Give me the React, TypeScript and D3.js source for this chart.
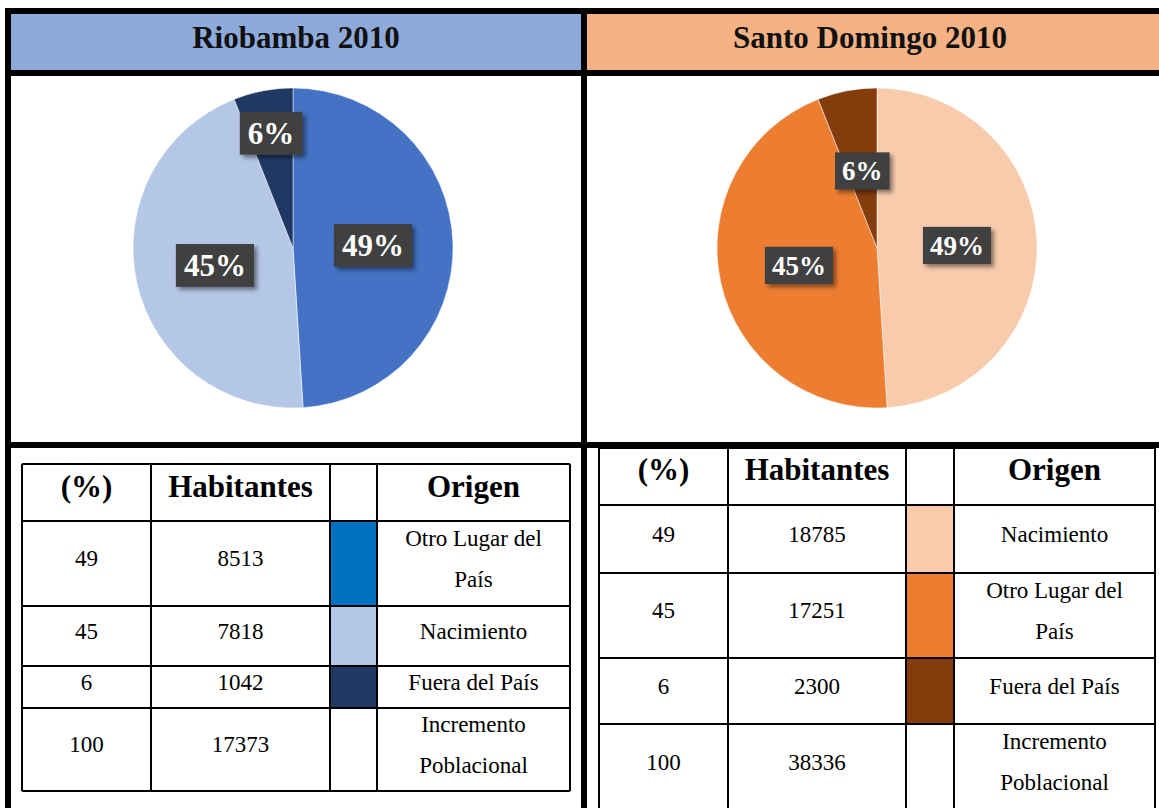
import * as d3 from "d3";

// Riobamba 2010
const riobambaOrigen = [["Otro Lugar del", "País"], ["Nacimiento"], ["Fuera del País"]];
const riobambaHabitantes = [8513, 7818, 1042];
const riobambaPieColors = ["#4472C4", "#B4C7E7", "#203864"];
const riobambaSwatches = ["#0070C0", "#B4C7E7", "#203864"];

// Santo Domingo 2010
const santoOrigen = [["Nacimiento"], ["Otro Lugar del", "País"], ["Fuera del País"]];
const santoHabitantes = [18785, 17251, 2300];
const santoPieColors = ["#F8CBAD", "#ED7D31", "#843C0C"];
const santoSwatches = ["#F8CBAD", "#ED7D31", "#843C0C"];

const tableHeaders = ["(%)", "Habitantes", "", "Origen"];
const totalLabel = ["Incremento", "Poblacional"];

const W = 1159;
const H = 808;
const SERIF = "'Liberation Serif', 'Times New Roman', Times, serif";

const panels = [
  {
    title: "Riobamba 2010",
    headerFill: "#8EAADB",
    x0: 11,
    x1: 581,
    origen: riobambaOrigen,
    values: riobambaHabitantes,
    pieColors: riobambaPieColors,
    swatches: riobambaSwatches,
    cx: 293,
    cy: 248,
    r: 160,
    labelFont: 31,
    labelR: [0.5, 0.5, 0.73],
    cols: [22, 151, 330, 377, 570],
    rows: [464, 521, 606, 666, 708, 791],
    headBase: 497,
  },
  {
    title: "Santo Domingo 2010",
    headerFill: "#F4B183",
    x0: 587,
    x1: 1159,
    origen: santoOrigen,
    values: santoHabitantes,
    pieColors: santoPieColors,
    swatches: santoSwatches,
    cx: 877,
    cy: 248,
    r: 160,
    labelFont: 27,
    labelR: [0.5, 0.5, 0.49],
    cols: [599, 728, 906, 954, 1155],
    rows: [448, 505, 573, 658, 724, 810],
    headBase: 480,
  },
];

const pct = d3.format(".0%");

function CellText({ x, y0, y1, lines, size = 23 }: any) {
  const mid = (y0 + y1) / 2 - 5;
  const gap = 41;
  return (
    <>
      {lines.map((t: string, i: number) => (
        <text
          key={i}
          x={x}
          y={mid + (i - (lines.length - 1) / 2) * gap + size * 0.33}
          textAnchor="middle"
          style={{ fontFamily: SERIF }}
          fontSize={size}
          fill="#000"
        >
          {t}
        </text>
      ))}
    </>
  );
}

function Panel({ p }: any) {
  const total = d3.sum(p.values as number[]);
  const arcs = d3.pie<number>().sort(null).value((d) => d)(p.values);
  const arc = d3.arc<d3.PieArcDatum<number>>().innerRadius(0).outerRadius(p.r);
  const colMid = (i: number) => (p.cols[i] + p.cols[i + 1]) / 2;

  const bodyRows = p.values.map((v: number, i: number) => ({
    pct: String(Math.round((v / total) * 100)),
    hab: String(v),
    origen: p.origen[i],
    swatch: p.swatches[i],
  }));
  bodyRows.push({
    pct: String(Math.round(d3.sum(bodyRows, (d: any) => +d.pct))),
    hab: String(total),
    origen: totalLabel,
    swatch: null,
  });

  const cm = (p.x0 + p.x1) / 2 + (p.x0 < 100 ? 0 : -3);
  return (
    <g>
      <rect x={p.x0} y={14} width={p.x1 - p.x0} height={56} fill={p.headerFill} />
      <text
        x={cm}
        y={48}
        textAnchor="middle"
        style={{ fontFamily: SERIF }}
        fontWeight="bold"
        fontSize={31}
        fill="#111"
      >
        {p.title}
      </text>

      <g transform={`translate(${p.cx},${p.cy})`}>
        {arcs.map((a, i) => (
          <path key={i} d={arc(a) as string} fill={p.pieColors[i]} stroke="#fff" strokeWidth={0.5} />
        ))}
        {arcs.map((a, i) => {
          const mid = (a.startAngle + a.endAngle) / 2;
          const rl = p.r * p.labelR[i];
          const lx = rl * Math.sin(mid);
          const ly = -rl * Math.cos(mid);
          const label = pct(a.value / total);
          const f = p.labelFont;
          const tw = f * (0.5 * (label.length - 1) + 1.0);
          const bw = tw + f * 0.52;
          const bh = f * 1.38;
          return (
            <g key={i} transform={`translate(${lx},${ly})`}>
              <rect
                x={-bw / 2}
                y={-bh / 2}
                width={bw}
                height={bh}
                fill="#404040"
                filter="url(#shadow)"
              />
              <text
                y={f * 0.34}
                textAnchor="middle"
                style={{ fontFamily: SERIF }}
                fontWeight="bold"
                fontSize={f}
                fill="#fff"
              >
                {label}
              </text>
            </g>
          );
        })}
      </g>

      {/* table */}
      <g>
        {bodyRows.map((d: any, i: number) =>
          d.swatch ? (
            <rect
              key={"s" + i}
              x={p.cols[2]}
              y={p.rows[i + 1]}
              width={p.cols[3] - p.cols[2]}
              height={p.rows[i + 2] - p.rows[i + 1]}
              fill={d.swatch}
            />
          ) : null
        )}
        {p.rows.map((y: number, i: number) => (
          <line key={"r" + i} x1={p.cols[0]} x2={p.cols[4]} y1={y} y2={y} stroke="#000" strokeWidth={2} />
        ))}
        {p.cols.map((x: number, i: number) => (
          <line
            key={"c" + i}
            x1={x}
            x2={x}
            y1={p.rows[0]}
            y2={p.rows[p.rows.length - 1]}
            stroke="#000"
            strokeWidth={2}
          />
        ))}
        {tableHeaders.map((h, i) =>
          h ? (
            <text
              key={"h" + i}
              x={colMid(i)}
              y={p.headBase}
              textAnchor="middle"
              style={{ fontFamily: SERIF }}
              fontWeight="bold"
              fontSize={31}
              fill="#000"
            >
              {h}
            </text>
          ) : null
        )}
        {bodyRows.map((d: any, i: number) => (
          <g key={"b" + i}>
            <CellText x={colMid(0)} y0={p.rows[i + 1]} y1={p.rows[i + 2]} lines={[d.pct]} />
            <CellText x={colMid(1)} y0={p.rows[i + 1]} y1={p.rows[i + 2]} lines={[d.hab]} />
            <CellText x={colMid(3)} y0={p.rows[i + 1]} y1={p.rows[i + 2]} lines={d.origen} />
          </g>
        ))}
      </g>
    </g>
  );
}

export default function App() {
  return (
    <svg
      width={W}
      height={H}
      style={{ position: "absolute", left: 0, top: 0, display: "block", background: "#fff" }}
    >
      <defs>
        <filter id="shadow" x="-30%" y="-30%" width="170%" height="170%">
          <feDropShadow dx={3} dy={3} stdDeviation={2} floodColor="#000" floodOpacity={0.45} />
        </filter>
      </defs>
      <rect width={W} height={H} fill="#fff" />
      {panels.map((p, i) => (
        <Panel key={i} p={p} />
      ))}
      {/* outer frame */}
      <g fill="#000">
        <rect x={5} y={8} width={W - 5} height={6} />
        <rect x={5} y={8} width={6} height={H - 8} />
        <rect x={581} y={8} width={6} height={H - 8} />
        <rect x={5} y={70} width={W - 5} height={6} />
        <rect x={5} y={442} width={W - 5} height={6} />
      </g>
    </svg>
  );
}
